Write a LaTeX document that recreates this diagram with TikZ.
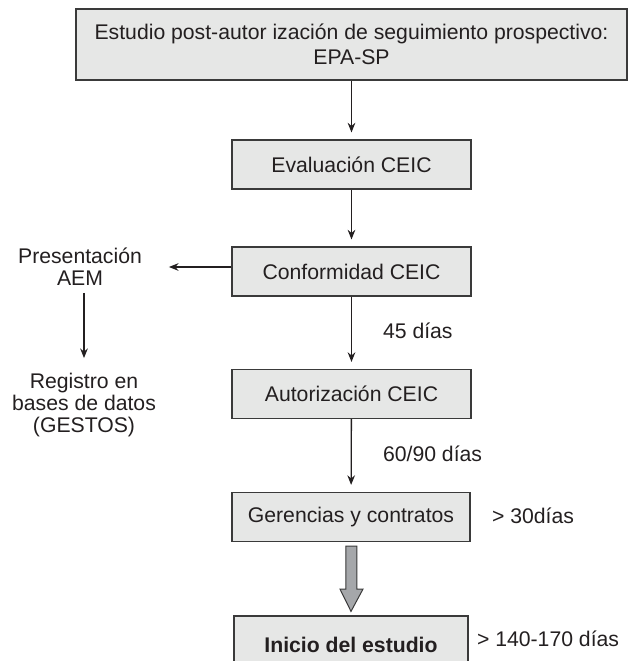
\documentclass[tikz,border=0pt]{standalone}
\usepackage{fontspec}
\setmainfont{Liberation Sans}
\usetikzlibrary{arrows.meta, calc}

\definecolor{boxfill}{HTML}{E6E7E6}
\definecolor{boxline}{HTML}{3A3A3A}
\definecolor{ink}{HTML}{231F20}
\definecolor{bigfill}{HTML}{A5A7AA}

\begin{document}
\begin{tikzpicture}[x=0.5pt, y=-0.5pt, text=ink,
    font=\fontsize{10.6pt}{11pt}\selectfont,
    stepbox/.style={draw=boxline, fill=boxfill, line width=0.6pt,
      minimum width=119.5pt, minimum height=24.5pt, inner sep=0pt},
    flow/.style={draw=ink, line width=0.65pt,
      -{Stealth[length=4.8pt, width=3.8pt]}, shorten >=3.5pt},
    days/.style={anchor=west}]
    \clip (0, 0) rectangle (637, 661);

    % Main column
    \node [stepbox, minimum width=275.5pt, minimum height=35.5pt,
           align=center, font=\fontsize{10.6pt}{12.5pt}\selectfont]
          (epa) at (351.5, 44.5)
          {Estudio post-autor ización de seguimiento prospectivo:\\EPA-SP};
    \node [stepbox] (eval) at (351.5, 164.5) {Evaluación CEIC};
    \node [stepbox] (conf) at (351.5, 271.5) {Conformidad CEIC};
    \node [stepbox] (auto) at (351.5, 394) {Autorización CEIC};
    \node [stepbox, minimum width=119pt] (ger) at (351, 517) {Gerencias y contratos};
    \node [stepbox, minimum width=117pt, minimum height=29pt]
          (ini) at (351, 645) {\bfseries Inicio del estudio};

    % Side branch
    \node [align=center] (pres) at (80, 267) {Presentación\\AEM};
    \node [align=center] (reg) at (84, 405) {Registro en\\bases de datos\\(GESTOS)};

    % Time labels
    \node [days] (d45) at (376, 331) {45 días};
    \node [days] (d60) at (376, 454) {60/90 días};
    \node [days] (d30) at (485, 516) {> 30días};
    \node [days] (d140) at (470, 639) {> 140-170 días};

    % Connections
    \foreach \a/\b in {epa/eval, eval/conf, conf/auto, auto/ger} {
      \draw [flow] (\a) -- (\b);
    }
    \draw [flow, shorten >=10pt] (conf.west |- pres.east) -- (pres.east);
    \draw [flow, shorten >=4pt] ($(pres.south)+(4,0)$) -- ($(pres.south |- reg.north)+(4,0)$);

    % Big arrow
    \draw [draw=boxline, fill=bigfill, line width=0.5pt]
      ($(ger.south)+(-5,4)$) -- ($(ger.south)+(-5,47)$)
      -- ($(ger.south)+(-11,47)$) -- ($(ini.north)+(0,-4)$)
      -- ($(ger.south)+(12,47)$) -- ($(ger.south)+(6,47)$)
      -- ($(ger.south)+(6,4)$) -- cycle;
\end{tikzpicture}
\end{document}
